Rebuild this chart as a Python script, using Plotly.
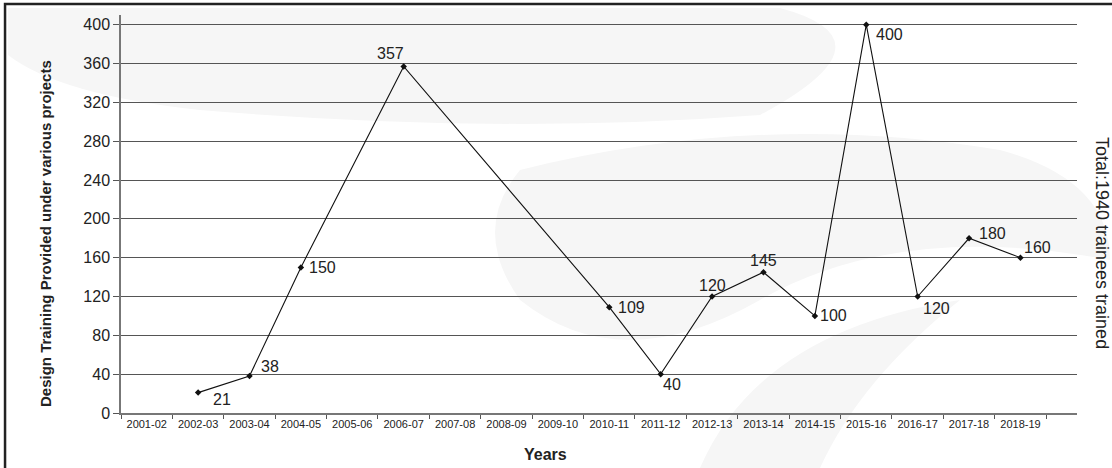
import plotly.graph_objects as go

years = ["2001-02", "2002-03", "2003-04", "2004-05", "2005-06", "2006-07",
         "2007-08", "2008-09", "2009-10", "2010-11", "2011-12", "2012-13",
         "2013-14", "2014-15", "2015-16", "2016-17", "2017-18", "2018-19"]
trainees = [None, 21, 38, 150, None, 357, None, None, None, 109, 40, 120,
            145, 100, 400, 120, 180, 160]
y_ticks = [0, 40, 80, 120, 160, 200, 240, 280, 320, 360, 400]

# label offsets (pixels) for each data label
label_dx = [0, 24, 21, 22, 0, -13, 0, 0, 0, 22, 11, 0, 0, 19, 23, 19, 23, 17]
label_dy = [0, -7, 10, 0, 0, 13, 0, 0, 0, 0, -10, 11, 12, 0, -10, -12, 5, 10]

FONT = "Liberation Sans, Arial, sans-serif"

# plot area in page pixels (for decorative frame / watermark)
L, R, T, B = 121, 1077, 15, 413


def px(X):
    return (X - L) / (R - L)


def py(Y):
    return (B - Y) / (B - T)


def path(points):
    s = "M {:.4f} {:.4f}".format(px(points[0][0]), py(points[0][1]))
    for p in points[1:]:
        if len(p) == 4:
            s += " Q {:.4f} {:.4f} {:.4f} {:.4f}".format(px(p[0]), py(p[1]), px(p[2]), py(p[3]))
        else:
            s += " L {:.4f} {:.4f}".format(px(p[0]), py(p[1]))
    return s + " Z"


fig = go.Figure()

# faint watermark swirls
wm_color = "#f6f6f6"
for pts in [
    [(8, 8), (780, 8), (900, 40, 760, 115), (500, 135, 200, 110), (60, 95, 8, 55)],
    [(520, 170), (760, 110, 1000, 150), (1110, 180, 1110, 260), (900, 220, 760, 300),
     (620, 380, 520, 300), (470, 230, 520, 170)],
    [(700, 468), (760, 330, 960, 300), (860, 380, 820, 468)],
]:
    fig.add_shape(type="path", xref="paper", yref="paper", path=path(pts),
                  fillcolor=wm_color, line=dict(width=0), layer="below")

fig.add_trace(go.Scatter(
    x=years, y=trainees, mode="lines+markers", connectgaps=True,
    line=dict(color="#111111", width=1.1),
    marker=dict(symbol="diamond", size=5, color="#111111"),
    hoverinfo="x+y", showlegend=False,
))

for yr, v, dx, dy in zip(years, trainees, label_dx, label_dy):
    if v is None:
        continue
    fig.add_annotation(x=yr, y=v, text=str(v), showarrow=False,
                       xshift=dx, yshift=dy,
                       font=dict(family=FONT, size=16, color="#222222"))

# axis titles
fig.add_annotation(xref="paper", yref="paper", x=px(545), y=py(454), yanchor="middle",
                   text="<b>Years</b>", showarrow=False,
                   font=dict(family=FONT, size=16, color="#222222"))
fig.add_annotation(xref="paper", yref="paper", x=px(45), y=py(234), xanchor="center",
                   text="<b>Design Training Provided under various projects</b>",
                   textangle=-90, showarrow=False,
                   font=dict(family=FONT, size=15, color="#222222"))
fig.add_annotation(xref="paper", yref="paper", x=px(1102), y=py(243), xanchor="center",
                   text="Total:1940 trainees trained",
                   textangle=90, showarrow=False,
                   font=dict(family=FONT, size=18, color="#222222"))

# outer frame (top and left edges visible)
fig.add_shape(type="path", xref="paper", yref="paper",
              path="M {:.4f} {:.4f} L {:.4f} {:.4f} L {:.4f} {:.4f}".format(
                  px(5), py(480), px(5), py(4), px(1120), py(4)),
              line=dict(color="#222222", width=2.5))

fig.update_layout(
    width=1112, height=468,
    margin=dict(l=L, r=1112 - R, t=T, b=468 - B),
    paper_bgcolor="white", plot_bgcolor="rgba(0,0,0,0)",
    font=dict(family=FONT, color="#222222"),
    xaxis=dict(
        type="category", range=[-0.5, 18.1],
        tickson="boundaries", ticks="outside", ticklen=4, tickcolor="#555555",
        showline=True, linecolor="#777777", linewidth=1.5,
        showgrid=False, zeroline=False,
        tickfont=dict(family=FONT, size=11, color="#222222"),
        fixedrange=True,
    ),
    yaxis=dict(
        range=[0, 410], tickvals=y_ticks,
        ticks="outside", ticklen=6, tickcolor="#555555",
        showline=True, linecolor="#777777", linewidth=1.5,
        showgrid=True, gridcolor="#555555", gridwidth=1,
        zeroline=False,
        tickfont=dict(family=FONT, size=16, color="#222222"),
        fixedrange=True,
    ),
)

fig.write_html("out.html", config={"displayModeBar": False},
               post_script="document.body.style.margin='0';")
